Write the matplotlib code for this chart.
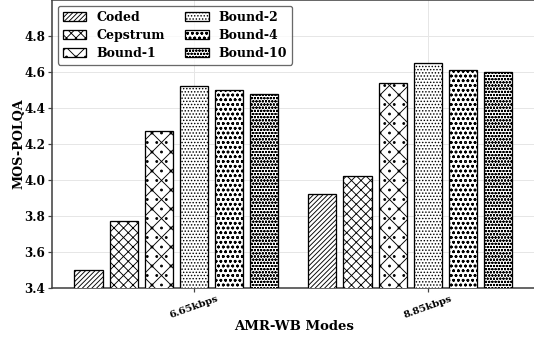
import numpy as np
import matplotlib.pyplot as plt

# MOS-POLQA scores for each AMR-WB mode
modes = ['6.65kbps', '8.85kbps']
methods = ['Coded', 'Cepstrum', 'Bound-1', 'Bound-2', 'Bound-4', 'Bound-10']
coded = [3.50, 3.92]
cepstrum = [3.77, 4.02]
bound_1 = [4.27, 4.54]
bound_2 = [4.52, 4.65]
bound_4 = [4.50, 4.61]
bound_10 = [4.48, 4.60]
y_ticks = [3.4, 3.6, 3.8, 4.0, 4.2, 4.4, 4.6, 4.8]

scores = [coded, cepstrum, bound_1, bound_2, bound_4, bound_10]
hatches = ['////', 'xx', 'x.', '...', 'oo', 'ooo']

# hatch spacing follows the dpi, a low dpi gives the dense hatches of the original
DPI = 57


def px(v):
    # pixels -> points at this dpi
    return v * 72 / DPI


plt.rcParams['font.family'] = 'DejaVu Serif'
plt.rcParams['font.weight'] = 'bold'
plt.rcParams['hatch.linewidth'] = px(0.9)

fig = plt.figure(figsize=(534 / DPI, 343 / DPI), dpi=DPI)
ax = fig.add_axes([52 / 534, 55 / 343, 488 / 534, 288 / 343])

x = np.arange(len(modes))
step = 0.15
width = 0.12

for i in range(len(methods)):
    ax.bar(x + i * step, scores[i], width, label=methods[i], color='white',
           edgecolor='black', hatch=hatches[i], linewidth=px(1.3), zorder=3)

ax.set_ylim(3.4, 5.0)
ax.set_xlim(-0.156, 1.93)
ax.set_yticks(y_ticks)
ax.set_xticks(x + 3 * step)
ax.set_xticklabels(modes, rotation=20, fontsize=px(10), fontweight='bold')
ax.tick_params(axis='y', labelsize=px(12), length=px(3.5), width=px(1.2),
               color='#444444', pad=px(3))
ax.tick_params(axis='x', length=px(3.5), width=px(1.2), color='#444444', pad=px(3))

ax.grid(True, color='#e6e6e6', linewidth=px(1), zorder=0)
for side in ['left', 'bottom', 'top', 'right']:
    ax.spines[side].set_color('#444444')
    ax.spines[side].set_linewidth(px(1.6))

ax.set_ylabel('MOS-POLQA', fontsize=px(12.8), fontweight='bold')
ax.yaxis.set_label_coords(-0.055, 0.5)
ax.set_xlabel('AMR-WB Modes', fontsize=px(13.3), fontweight='bold')
ax.xaxis.set_label_coords(0.496, -0.111)

legend = ax.legend(loc='upper left', ncol=2, fontsize=px(12.5), frameon=True,
                   edgecolor='#444444', bbox_to_anchor=(0.0, 1.0),
                   borderaxespad=0.45, handlelength=1.9, handletextpad=0.8,
                   columnspacing=1.6, borderpad=0.4, labelspacing=0.4)
legend.get_frame().set_linewidth(px(1.3))
for text in legend.get_texts():
    text.set_fontweight('bold')

fig.savefig('out.png', dpi=DPI)
